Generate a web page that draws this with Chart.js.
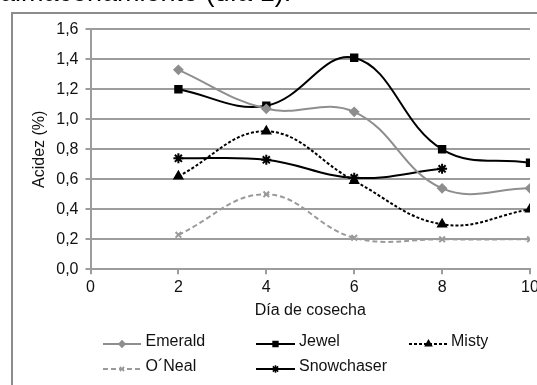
<!DOCTYPE html>
<html lang="es">
<head>
<meta charset="utf-8">
<title>Acidez por día de cosecha</title>
<script src="https://cdn.jsdelivr.net/npm/chart.js@4/dist/chart.umd.min.js"></script>
<style>
  html, body { margin: 0; padding: 0; background: #fff; overflow: hidden; }
  #wrap { position: relative; width: 537px; height: 385px; overflow: hidden; }
  #chart { position: absolute; left: 0; top: 0; }
  #caption {
    position: absolute; left: 0; top: -21px; margin: 0;
    font: 27px/26px "Liberation Sans", Arial, sans-serif; color: #000; white-space: nowrap;
  }
</style>
</head>
<body>
<div id="wrap">
  <canvas id="chart" width="537" height="385"></canvas>
  <p id="caption">almacenamiento (día 1).</p>
</div>
<script>
// Harvest days (x) and acidity (%) per cultivar
const days = [2, 4, 6, 8, 10];
const emerald    = [1.33, 1.07, 1.05, 0.54, 0.54];
const jewel      = [1.20, 1.09, 1.41, 0.80, 0.71];
const misty      = [0.62, 0.92, 0.59, 0.30, 0.40];
const oneal      = [0.23, 0.50, 0.21, 0.20, 0.20];
const snowchaser = [0.74, 0.73, 0.61, 0.67, null];

const xTicks = { min: 0, max: 10, step: 2 };
const yTicks = { min: 0, max: 1.6, step: 0.2 };

const FONT = { family: '"Liberation Sans", Arial, sans-serif', size: 16 };
const TEXT = '#111';
const AXIS = '#9c9c9c';

const pts = (vals) => days.map((d, i) => ({ x: d, y: vals[i] })).filter(p => p.y !== null);

const series = [
  { label: 'Emerald',    data: pts(emerald),    borderColor: '#8e8e8e', backgroundColor: '#8e8e8e', pointStyle: 'rectRot', pointRadius: 4,   borderDash: [] },
  { label: 'Jewel',      data: pts(jewel),      borderColor: '#000',    backgroundColor: '#000',    pointStyle: 'rect',    pointRadius: 4.5, borderDash: [] },
  { label: 'Misty',      data: pts(misty),      borderColor: '#000',    backgroundColor: '#000',    pointStyle: 'triangle',pointRadius: 4.5, borderDash: [3, 2] },
  { label: 'O´Neal',     data: pts(oneal),      borderColor: '#9a9a9a', backgroundColor: '#9a9a9a', pointStyle: 'crossRot',pointRadius: 4,   borderDash: [5, 3] },
  { label: 'Snowchaser', data: pts(snowchaser), borderColor: '#000',    backgroundColor: '#000',    pointStyle: 'star',    pointRadius: 5,   borderDash: [] }
].map(s => Object.assign(s, {
  borderWidth: 2,
  pointBorderColor: s.borderColor,
  pointBackgroundColor: s.backgroundColor,
  pointBorderWidth: 2,
  tension: 0.4,
  fill: false
}));

// Legend slots: [line start, line end, text x, row y]
const legendSlots = [
  [103, 141, 145.5, 342],
  [256, 295, 299, 342],
  [409, 448, 451, 342],
  [103, 141, 145.5, 367],
  [256, 295, 299, 367]
];

const framePlugin = {
  id: 'frame',
  beforeDraw(chart) {
    const ctx = chart.ctx;
    ctx.save();
    ctx.strokeStyle = '#8c8c8c';
    ctx.lineWidth = 2;
    ctx.strokeRect(12, 13, 700, 700);
    ctx.restore();
  }
};

const legendPlugin = {
  id: 'gridLegend',
  afterDraw(chart) {
    const ctx = chart.ctx;
    chart.data.datasets.forEach((ds, i) => {
      const [x0, x1, tx, y] = legendSlots[i];
      const ly = y + 2;
      ctx.save();
      ctx.strokeStyle = ds.borderColor;
      ctx.lineWidth = ds.borderWidth;
      ctx.setLineDash(ds.borderDash || []);
      ctx.beginPath();
      ctx.moveTo(x0, ly);
      ctx.lineTo(x1, ly);
      ctx.stroke();
      ctx.setLineDash([]);
      ctx.fillStyle = ds.pointBackgroundColor;
      ctx.strokeStyle = ds.pointBorderColor;
      ctx.lineWidth = ds.pointBorderWidth * 0.8;
      Chart.helpers.drawPoint(ctx, {
        pointStyle: ds.pointStyle,
        radius: ds.pointRadius * 0.75,
        rotation: 0,
        borderWidth: ds.pointBorderWidth * 0.8
      }, (x0 + x1) / 2, ly);
      ctx.fillStyle = TEXT;
      ctx.font = `${FONT.size}px ${FONT.family}`;
      ctx.textAlign = 'left';
      ctx.textBaseline = 'middle';
      ctx.fillText(ds.label, tx, y);
      ctx.restore();
    });
  }
};

new Chart(document.getElementById('chart'), {
  type: 'line',
  data: { datasets: series },
  plugins: [framePlugin, legendPlugin],
  options: {
    responsive: false,
    animation: false,
    layout: { padding: { left: 30, top: 29.3, right: 6, bottom: 64.9 } },
    plugins: { legend: { display: false }, tooltip: { enabled: false } },
    scales: {
      x: {
        type: 'linear',
        min: xTicks.min, max: xTicks.max,
        ticks: { stepSize: xTicks.step, padding: 4, font: FONT, color: TEXT },
        grid: { drawOnChartArea: false, tickLength: 5, color: AXIS, lineWidth: 2 },
        border: { color: AXIS, width: 2 },
        title: { display: true, text: 'Día de cosecha', font: FONT, color: TEXT, padding: 0 },
        afterFit(s) { s.height = 50.8; s.paddingLeft = 0; s.paddingRight = 0; }
      },
      y: {
        min: yTicks.min, max: yTicks.max,
        ticks: {
          stepSize: yTicks.step, padding: 7, font: FONT, color: TEXT,
          callback: (v) => v.toFixed(1).replace('.', ',')
        },
        grid: { color: AXIS, lineWidth: 2, tickLength: 5 },
        border: { color: AXIS, width: 2 },
        title: { display: true, text: 'Acidez (%)', font: FONT, color: TEXT, padding: 0 },
        afterFit(s) { s.width = 60.5; s.paddingTop = 0; s.paddingBottom = 0; }
      }
    }
  }
});
</script>
</body>
</html>
